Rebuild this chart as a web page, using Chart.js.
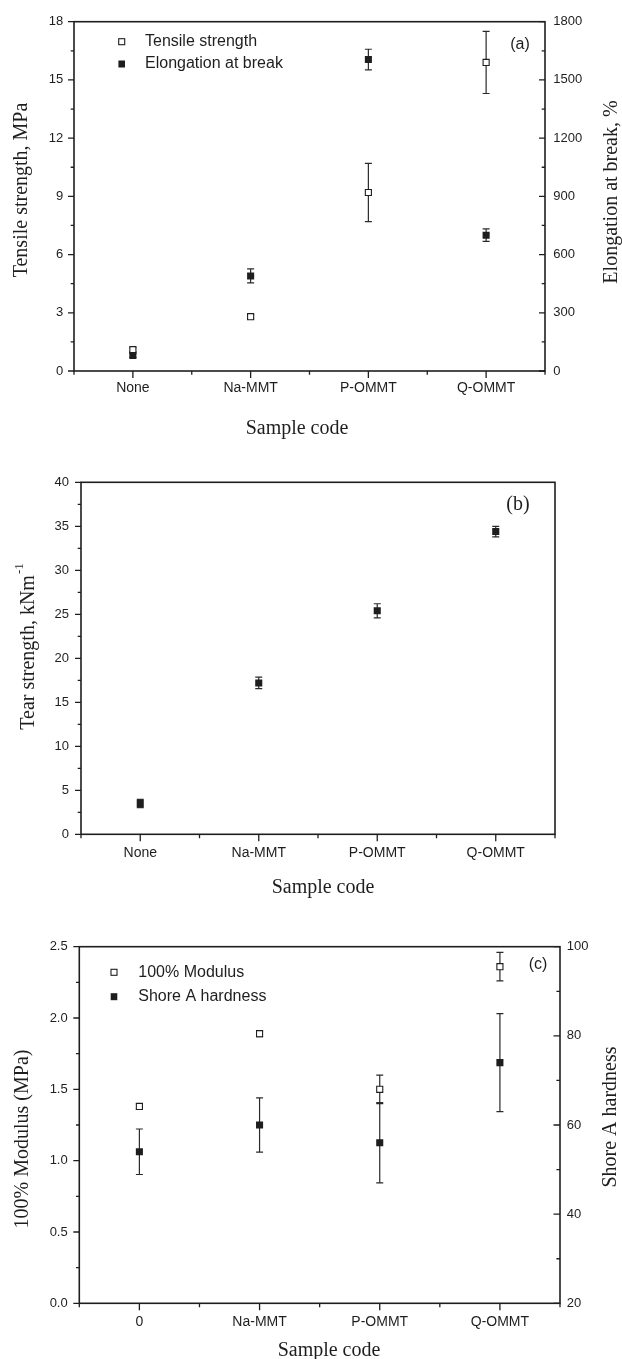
<!DOCTYPE html>
<html>
<head>
<meta charset="utf-8">
<script src="https://cdn.jsdelivr.net/npm/chart.js@4.4.1/dist/chart.umd.min.js"></script>
<style>
  html, body { margin: 0; padding: 0; background: #fff; }
  .panel { position: absolute; left: 0; width: 622px; }
</style>
</head>
<body>
<div class="panel" style="top:0;height:445px"><canvas id="chartA" width="622" height="445"></canvas></div>
<div class="panel" style="top:445px;height:460px"><canvas id="chartB" width="622" height="460"></canvas></div>
<div class="panel" style="top:905px;height:454px"><canvas id="chartC" width="622" height="454"></canvas></div>
<script>
// (a) tensile strength / elongation at break
const samplesA = ['None', 'Na-MMT', 'P-OMMT', 'Q-OMMT'];
const tensileStrength = [1.1, 2.8, 9.2, 15.9];
const tensileErr = [0.1, 0.1, 1.5, 1.6];
const elongation = [80, 490, 1605, 700];
const elongationErr = [10, 36, 53, 32];
const tensileTicks = [0, 3, 6, 9, 12, 15, 18];
const elongationTicks = [0, 300, 600, 900, 1200, 1500, 1800];

// (b) tear strength
const samplesB = ['None', 'Na-MMT', 'P-OMMT', 'Q-OMMT'];
const tearStrength = [3.5, 17.2, 25.4, 34.4];
const tearErr = [0.47, 0.65, 0.8, 0.6];
const tearTicks = [0, 5, 10, 15, 20, 25, 30, 35, 40];

// (c) 100% modulus / shore A hardness
const samplesC = ['0', 'Na-MMT', 'P-OMMT', 'Q-OMMT'];
const modulus100 = [1.38, 1.89, 1.5, 2.36];
const modulusErr = [0.02, 0.02, 0.1, 0.1];
const shoreA = [54, 60, 56, 74];
const shoreErr = [5.1, 6.1, 9, 11];
const modulusTicks = [0, 0.5, 1, 1.5, 2, 2.5];
const shoreTicks = [20, 40, 60, 80, 100];

const INK = '#1e1e1e';
const SANS = '"Liberation Sans", Arial, sans-serif';
const SERIF = '"Liberation Serif", "Times New Roman", serif';
Chart.defaults.font.family = SANS;
Chart.defaults.color = INK;

function valueAxis(position, tickValues, pad, width, fmt) {
    return {
        type: 'linear',
        position,
        min: tickValues[0],
        max: tickValues[tickValues.length - 1],
        afterBuildTicks: (s) => { s.ticks = tickValues.map((v) => ({ value: v })); },
        afterFit: (s) => { s.width = width; },
        grid: { display: false, drawTicks: false },
        border: { display: false },
        ticks: { padding: pad, color: INK, font: { size: 13 }, callback: fmt || ((v) => v) },
    };
}

function sampleAxis(pad, height) {
    return {
        type: 'category',
        offset: true,
        afterFit: (s) => { s.height = height; },
        grid: { display: false, drawTicks: false, offset: false },
        border: { display: false },
        ticks: { padding: pad, color: INK, font: { size: 14 }, maxRotation: 0, autoSkip: false },
    };
}

function series(label, data, errors, axis, filled, order) {
    return {
        label, data, errors, yAxisID: axis, order,
        showLine: false,
        pointStyle: 'rect',
        pointRadius: filled ? 5 : 4.3,
        pointBackgroundColor: filled ? INK : '#fff',
        pointBorderColor: INK,
        pointBorderWidth: filled ? 0 : 1.1,
        errorColor: '#2a2a2a',
    };
}

function drawText(ctx, t) {
    ctx.save();
    ctx.fillStyle = INK;
    ctx.textBaseline = 'middle';
    ctx.font = t.font;
    ctx.translate(t.x, t.y);
    if (t.rotate) ctx.rotate(-Math.PI / 2);
    if (t.sup) {
        const w1 = ctx.measureText(t.text).width;
        ctx.font = t.supFont;
        const w2 = ctx.measureText(t.sup).width;
        const x0 = -(w1 + w2) / 2;
        ctx.textAlign = 'left';
        ctx.font = t.font;
        ctx.fillText(t.text, x0, 0);
        ctx.font = t.supFont;
        ctx.fillText(t.sup, x0 + w1 + 1, -9);
    } else {
        ctx.textAlign = t.align || 'center';
        ctx.fillText(t.text, 0, 0);
    }
    ctx.restore();
}

const deco = {
    id: 'deco',
    beforeDatasetsDraw(chart) {
        const { ctx } = chart;
        chart.data.datasets.forEach((ds, i) => {
            if (!ds.errors) return;
            const meta = chart.getDatasetMeta(i);
            const ys = chart.scales[ds.yAxisID];
            ctx.save();
            ctx.strokeStyle = ds.errorColor;
            ctx.lineWidth = 1.2;
            meta.data.forEach((pt, j) => {
                const top = ys.getPixelForValue(ds.data[j] + ds.errors[j]);
                const bot = ys.getPixelForValue(ds.data[j] - ds.errors[j]);
                ctx.beginPath();
                ctx.moveTo(pt.x, top); ctx.lineTo(pt.x, bot);
                ctx.moveTo(pt.x - 3.5, top); ctx.lineTo(pt.x + 3.5, top);
                ctx.moveTo(pt.x - 3.5, bot); ctx.lineTo(pt.x + 3.5, bot);
                ctx.stroke();
            });
            ctx.restore();
        });
    },
    afterDraw(chart, args, opts) {
        const { ctx, chartArea: a } = chart;
        ctx.save();
        ctx.strokeStyle = INK;
        ctx.lineWidth = 1.6;
        ctx.strokeRect(a.left, a.top, a.right - a.left, a.bottom - a.top);

        // axis tick marks, major from the scale ticks, minor halfway
        ctx.lineWidth = 1.3;
        (opts.axes || []).forEach((ax) => {
            const s = chart.scales[ax.id];
            const marks = s.ticks.map((t) => [s.getPixelForValue(t.value), ax.len]);
            if (ax.minorStep) {
                const start = ax.minorStart !== undefined ? ax.minorStart : s.min;
                const end = ax.minorEnd !== undefined ? ax.minorEnd : s.max;
                for (let v = start; v <= end + 1e-9; v += ax.minorStep) {
                    const onMajor = s.ticks.some((t) => Math.abs(t.value - v) < 1e-9);
                    if (!onMajor) marks.push([s.getPixelForValue(v), ax.len * 0.55]);
                }
            }
            ctx.beginPath();
            marks.forEach(([p, len]) => {
                if (ax.side === 'bottom') {
                    ctx.moveTo(p, a.bottom); ctx.lineTo(p, a.bottom + ax.dir * len);
                } else if (ax.side === 'left') {
                    ctx.moveTo(a.left, p); ctx.lineTo(a.left - ax.dir * len, p);
                } else {
                    ctx.moveTo(a.right, p); ctx.lineTo(a.right + ax.dir * len, p);
                }
            });
            ctx.stroke();
        });
        ctx.restore();

        // legend built from dataset styles
        if (opts.legend) {
            const L = opts.legend;
            chart.data.datasets.forEach((ds, i) => {
                const y = L.y + i * L.gap;
                ctx.save();
                ctx.fillStyle = ds.pointBackgroundColor;
                ctx.strokeStyle = ds.pointBorderColor;
                ctx.lineWidth = 1.1;
                if (ds.pointBorderWidth) {
                    ctx.fillRect(L.x - 3, y - 3, 6, 6);
                    ctx.strokeRect(L.x - 3, y - 3, 6, 6);
                } else {
                    ctx.fillRect(L.x - 3.3, y - 3.5, 6.6, 7);
                }
                ctx.restore();
                drawText(ctx, { text: ds.label, x: L.textX, y, font: '16px ' + SANS, align: 'left' });
            });
        }
        (opts.texts || []).forEach((t) => drawText(ctx, t));
    },
};

new Chart(document.getElementById('chartA'), {
    type: 'line',
    data: {
        labels: samplesA,
        datasets: [
            series('Tensile strength', tensileStrength, tensileErr, 'y', false, 1),
            series('Elongation at break', elongation, elongationErr, 'y2', true, 0),
        ],
    },
    options: {
        responsive: false, animation: false, events: [],
        layout: { padding: { top: 21.7, left: 0, right: 0, bottom: 0 } },
        scales: {
            x: sampleAxis(9, 74),
            y: valueAxis('left', tensileTicks, 10.7, 74),
            y2: valueAxis('right', elongationTicks, 8.3, 77),
        },
        plugins: {
            legend: { display: false }, tooltip: { enabled: false },
            deco: {
                axes: [
                    { id: 'x', side: 'bottom', dir: 1, len: 7, minorStep: 1, minorStart: -0.5, minorEnd: 3.5 },
                    { id: 'y', side: 'left', dir: 1, len: 6, minorStep: 1.5 },
                    { id: 'y2', side: 'right', dir: -1, len: 6, minorStep: 150 },
                ],
                legend: { x: 121.7, y: 41.7, gap: 22.3, textX: 145 },
                texts: [
                    { text: 'Tensile strength, MPa', x: 22, y: 190, rotate: true, font: '20px ' + SERIF },
                    { text: 'Elongation at break, %', x: 612, y: 192, rotate: true, font: '20px ' + SERIF },
                    { text: 'Sample code', x: 297, y: 429, font: '20px ' + SERIF },
                    { text: '(a)', x: 520, y: 44.5, font: '16px ' + SANS },
                ],
            },
        },
    },
    plugins: [deco],
});

new Chart(document.getElementById('chartB'), {
    type: 'line',
    data: {
        labels: samplesB,
        datasets: [series('Tear strength', tearStrength, tearErr, 'y', true, 0)],
    },
    options: {
        responsive: false, animation: false, events: [],
        layout: { padding: { top: 37.3, left: 0, right: 67, bottom: 0 } },
        scales: {
            x: sampleAxis(10.3, 70.7),
            y: valueAxis('left', tearTicks, 12, 81),
        },
        plugins: {
            legend: { display: false }, tooltip: { enabled: false },
            deco: {
                axes: [
                    { id: 'x', side: 'bottom', dir: 1, len: 7, minorStep: 1, minorStart: -0.5, minorEnd: 3.5 },
                    { id: 'y', side: 'left', dir: 1, len: 6, minorStep: 2.5 },
                ],
                texts: [
                    { text: 'Tear strength, kNm', sup: '-1', x: 29, y: 202, rotate: true,
                      font: '20px ' + SERIF, supFont: '13px ' + SERIF },
                    { text: 'Sample code', x: 323, y: 442.5, font: '20px ' + SERIF },
                    { text: '(b)', x: 518, y: 60, font: '20px ' + SERIF },
                ],
            },
        },
    },
    plugins: [deco],
});

new Chart(document.getElementById('chartC'), {
    type: 'line',
    data: {
        labels: samplesC,
        datasets: [
            series('100% Modulus', modulus100, modulusErr, 'y', false, 1),
            series('Shore A hardness', shoreA, shoreErr, 'y2', true, 0),
        ],
    },
    options: {
        responsive: false, animation: false, events: [],
        layout: { padding: { top: 41.7, left: 0, right: 0, bottom: 0 } },
        scales: {
            x: sampleAxis(10.8, 55.7),
            y: valueAxis('left', modulusTicks, 11.6, 79.3, (v) => v.toFixed(1)),
            y2: valueAxis('right', shoreTicks, 6.7, 62),
        },
        plugins: {
            legend: { display: false }, tooltip: { enabled: false },
            deco: {
                axes: [
                    { id: 'x', side: 'bottom', dir: 1, len: 7, minorStep: 1, minorStart: -0.5, minorEnd: 3.5 },
                    { id: 'y', side: 'left', dir: 1, len: 6, minorStep: 0.25 },
                    { id: 'y2', side: 'right', dir: -1, len: 6.5, minorStep: 10 },
                ],
                legend: { x: 114, y: 67.3, gap: 24.4, textX: 138.3 },
                texts: [
                    { text: '100% Modulus (MPa)', x: 23, y: 234, rotate: true, font: '20px ' + SERIF },
                    { text: 'Shore A hardness', x: 611, y: 212, rotate: true, font: '20px ' + SERIF },
                    { text: 'Sample code', x: 329, y: 446, font: '20px ' + SERIF },
                    { text: '(c)', x: 538, y: 60, font: '16px ' + SANS },
                ],
            },
        },
    },
    plugins: [deco],
});
</script>
</body>
</html>
